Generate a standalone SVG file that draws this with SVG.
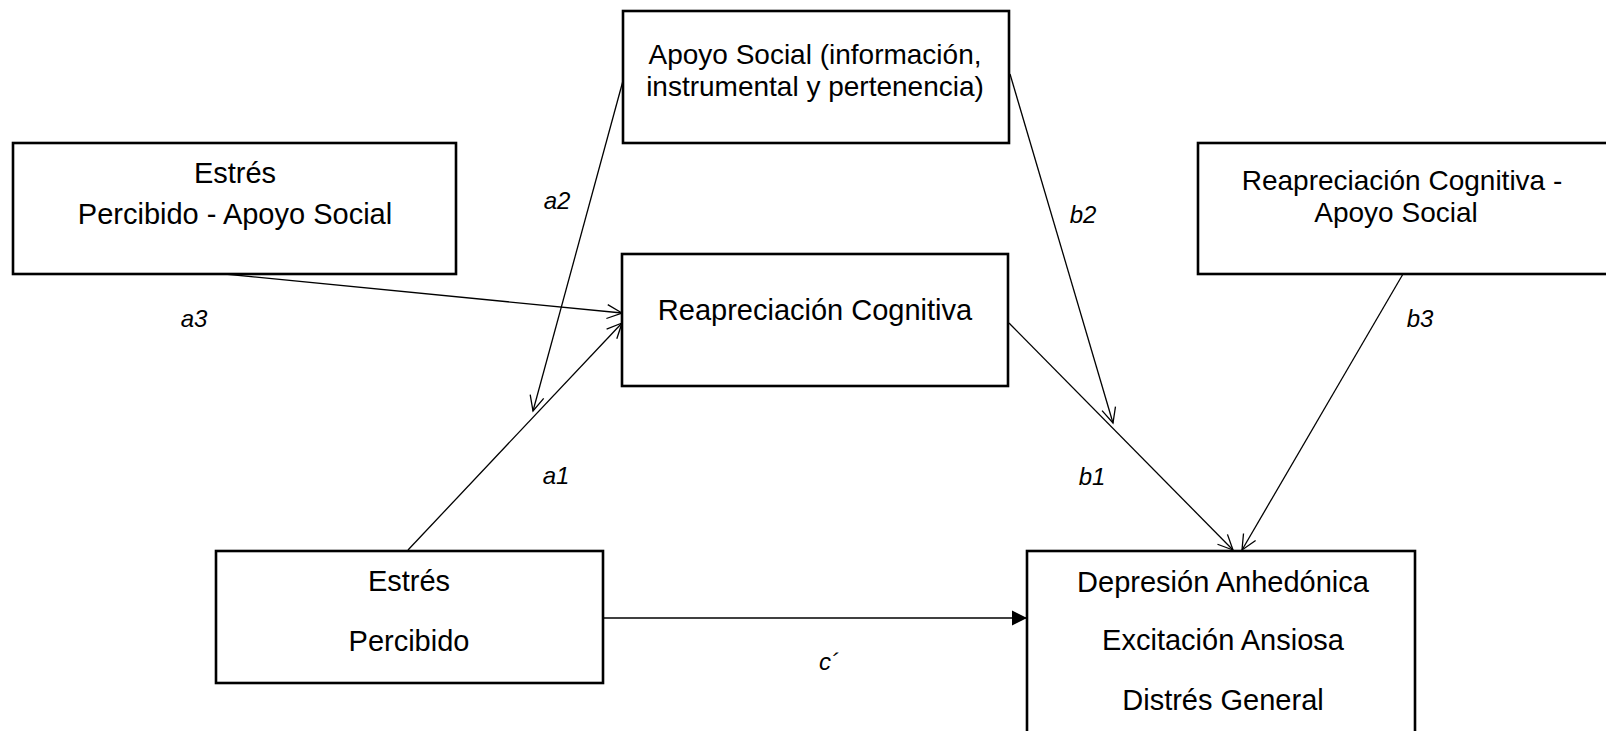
<svg xmlns="http://www.w3.org/2000/svg" width="1606" height="731" viewBox="0 0 1606 731">
  <style>
    .box { fill: #ffffff; stroke: #000000; stroke-width: 2.6; }
    .lbl { font-family: "Liberation Sans", "DejaVu Sans", sans-serif; font-size: 29px; fill: #000000; text-anchor: middle; }
    .tight { font-size: 28px; }
    .coef { font-family: "Liberation Sans", "DejaVu Sans", sans-serif; font-size: 24px; font-style: italic; fill: #000000; text-anchor: middle; }
    .edge { fill: none; stroke: #000000; stroke-width: 1.3; }
    .open { marker-end: url(#openArrow); }
    .solid { marker-end: url(#solidArrow); }
  </style>
  <defs>
    <marker id="openArrow" viewBox="0 0 20 20" refX="17" refY="10" markerWidth="20" markerHeight="20" markerUnits="userSpaceOnUse" orient="auto">
      <path d="M2,3 L17,10 L2,17" fill="none" stroke="#000" stroke-width="1.3"/>
    </marker>
    <marker id="solidArrow" viewBox="0 0 16 16" refX="15" refY="8" markerWidth="16" markerHeight="16" markerUnits="userSpaceOnUse" orient="auto">
      <path d="M0,0.5 L15,8 L0,15.5 Z" fill="#000"/>
    </marker>
  </defs>

  <rect x="0" y="0" width="1606" height="731" fill="#ffffff"/>

  <!-- paths between the constructs -->
  <g id="connectors">
    <line class="edge open" x1="624" y1="77" x2="533" y2="411"/>
    <line class="edge open" x1="225" y1="274" x2="622" y2="313"/>
    <line class="edge open" x1="408" y1="550" x2="622" y2="323"/>
    <line class="edge open" x1="1010" y1="74" x2="1113" y2="423"/>
    <line class="edge open" x1="1009" y1="323" x2="1233" y2="550"/>
    <line class="edge open" x1="1403" y1="274" x2="1242" y2="550"/>
    <line class="edge solid" x1="603" y1="618" x2="1027" y2="618"/>
  </g>

  <g id="coefficients">
    <text class="coef" x="557" y="209">a2</text>
    <text class="coef" x="194" y="327">a3</text>
    <text class="coef" x="556" y="484">a1</text>
    <text class="coef" x="1083" y="223">b2</text>
    <text class="coef" x="1420" y="327">b3</text>
    <text class="coef" x="1092" y="485">b1</text>
    <text class="coef" x="829" y="670">c´</text>
  </g>

  <g id="apoyo-social">
    <rect class="box" x="623" y="11" width="386" height="132"/>
    <text class="lbl tight" x="815" y="64">Apoyo Social (información,</text>
    <text class="lbl tight" x="815" y="96">instrumental y pertenencia)</text>
  </g>

  <g id="estres-apoyo">
    <rect class="box" x="13" y="143" width="443" height="131"/>
    <text class="lbl" x="235" y="183">Estrés</text>
    <text class="lbl" x="235" y="224">Percibido - Apoyo Social</text>
  </g>

  <g id="reapreciacion-apoyo">
    <rect class="box" x="1198" y="143" width="420" height="131"/>
    <text class="lbl tight" x="1402" y="190">Reapreciación Cognitiva -</text>
    <text class="lbl tight" x="1396" y="222">Apoyo Social</text>
  </g>

  <g id="reapreciacion">
    <rect class="box" x="622" y="254" width="386" height="132"/>
    <text class="lbl" x="815" y="320">Reapreciación Cognitiva</text>
  </g>

  <g id="estres">
    <rect class="box" x="216" y="551" width="387" height="132"/>
    <text class="lbl" x="409" y="591">Estrés</text>
    <text class="lbl" x="409" y="651">Percibido</text>
  </g>

  <g id="depresion">
    <rect class="box" x="1027" y="551" width="388" height="200"/>
    <text class="lbl" x="1223" y="592">Depresión Anhedónica</text>
    <text class="lbl" x="1223" y="650">Excitación Ansiosa</text>
    <text class="lbl" x="1223" y="710">Distrés General</text>
  </g>
</svg>
